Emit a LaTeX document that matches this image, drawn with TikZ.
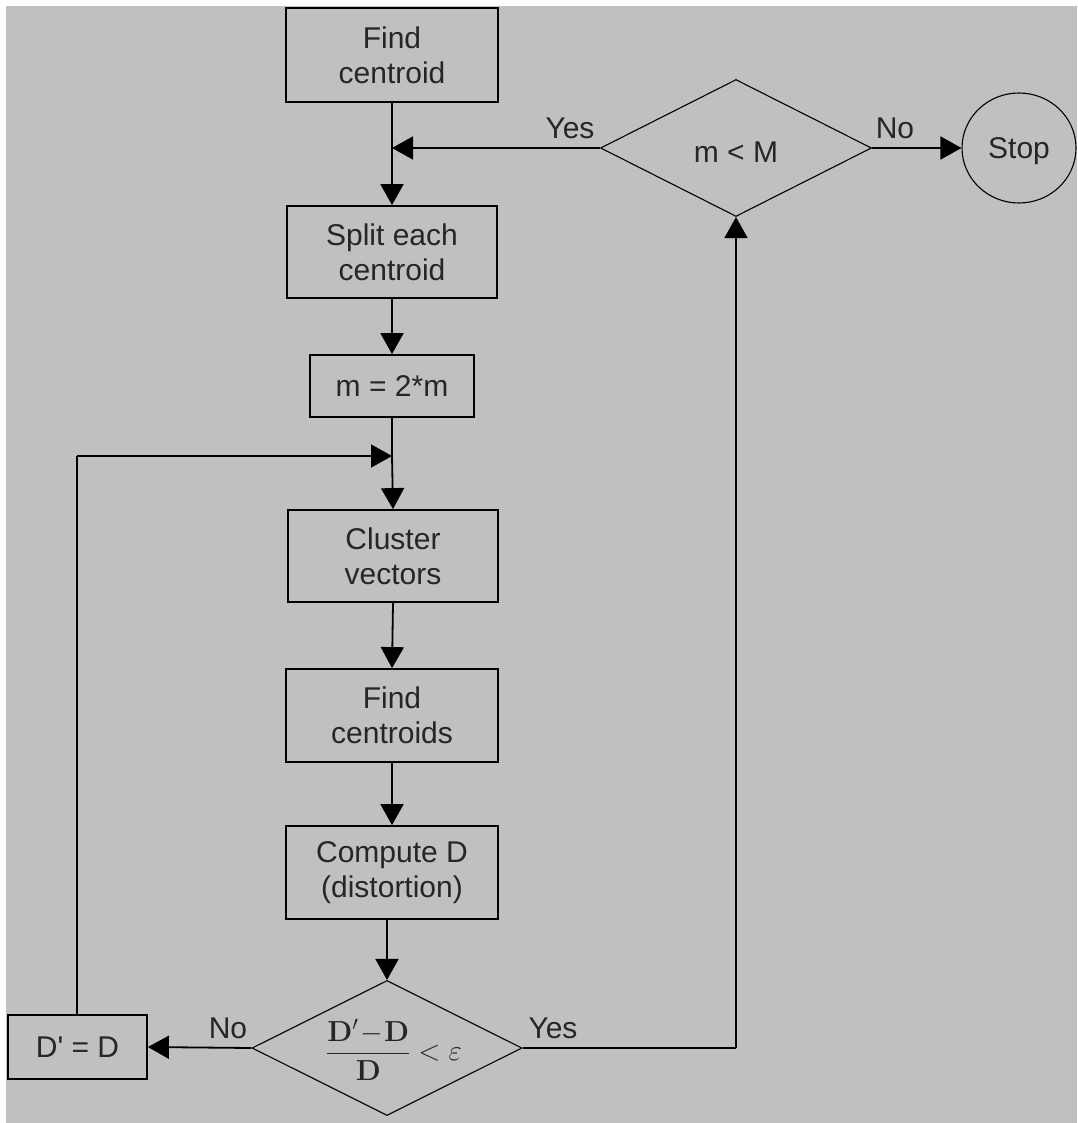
\RequirePackage{fix-cm}
\documentclass[tikz,border=0pt]{standalone}
\usepackage{amsmath}
\usepackage[no-math]{fontspec}
\setmainfont{Liberation Sans}
\usetikzlibrary{arrows.meta,shapes.geometric}
\begin{document}
\begin{tikzpicture}[x=1pt,y=-1pt,
  every node/.style={font=\fontsize{30}{35}\selectfont, text=black!85, align=center},
  box/.style={draw=black, line width=1.8pt, inner sep=0pt},
  dia/.style={draw=black, diamond, line width=1.1pt, inner sep=0pt},
  conn/.style={draw=black, line width=1.8pt, -{Triangle[length=21pt,width=23pt]}},
  plain/.style={draw=black, line width=1.8pt},
  lbl/.style={inner sep=0pt}]
\useasboundingbox (0,0) rectangle (1077,1123);
\fill[white] (0,0) rectangle (1077,1123);
\fill[fill={rgb,255:red,192;green,192;blue,192}] (6,6) rectangle (1077,1123);

% nodes
\node[box, minimum width=212pt, minimum height=94pt] (b1) at (392,55) {Find\\centroid};
\node[box, minimum width=210pt, minimum height=92pt] (b2) at (392,252) {Split each\\centroid};
\node[box, minimum width=164pt, minimum height=62pt] (b3) at (392,386) {m = 2*m};
\node[box, minimum width=210pt, minimum height=92pt] (b4) at (393,556) {Cluster\\vectors};
\node[box, minimum width=212pt, minimum height=93pt] (b5) at (392,715.5) {Find\\centroids};
\node[box, minimum width=212pt, minimum height=93pt] (b6) at (392,872.5) {Compute D\\(distortion)};
\node[dia, minimum width=270pt, minimum height=135pt] (d2) at (387,1048) {};
\node[lbl, font=\fontsize{29}{35}\selectfont] (f2) at (394,1050) {$\dfrac{\mathbf{D}'\!-\!\mathbf{D}}{\mathbf{D}} < \varepsilon$};
\node[box, minimum width=139pt, minimum height=64pt] (dd) at (77.5,1047) {D\textquotesingle{} = D};
\node[dia, minimum width=271pt, minimum height=137pt] (d1) at (736,148) {};
\node[lbl] (t1) at (736,152) {m < M};
\node[draw=black, ellipse, line width=1.1pt, minimum width=114pt, minimum height=110pt, inner sep=0pt] (stop) at (1019,148) {};
\node[lbl] (ts) at (1019,151) {Stop};

% junction points
\coordinate (j1) at (392,148);
\coordinate (j2) at (392,456);
\coordinate (c1) at (77,456);
\coordinate (c2) at (736,1048);

% connectors
\draw[plain] (b1.south) -- (j1);
\draw[conn] (j1) -- (b2.north);
\draw[conn] (d1.west) -- (j1);
\draw[conn] (d1.east) -- (stop.west);
\draw[conn] (b2.south) -- (b3.north);
\draw[plain] (b3.south) -- (j2);
\draw[conn] (j2) -- (b4.north);
\draw[conn] (b4.south) -- (b5.north);
\draw[conn] (b5.south) -- (b6.north);
\draw[conn] (b6.south -| d2.north) -- (d2.north);
\draw[conn] (d2.west) -- (dd.east);
\draw[plain] (dd.north -| c1) -- (c1);
\draw[conn] (c1) -- (j2);
\draw[plain] (d2.east) -- (c2);
\draw[conn] (c2) -- (d1.south);

% labels
\node[lbl] (y1) at (570,128) {Yes};
\node[lbl] (n1) at (895,128) {No};
\node[lbl] (n2) at (228,1028) {No};
\node[lbl] (y2) at (553,1028) {Yes};
\end{tikzpicture}
\end{document}
